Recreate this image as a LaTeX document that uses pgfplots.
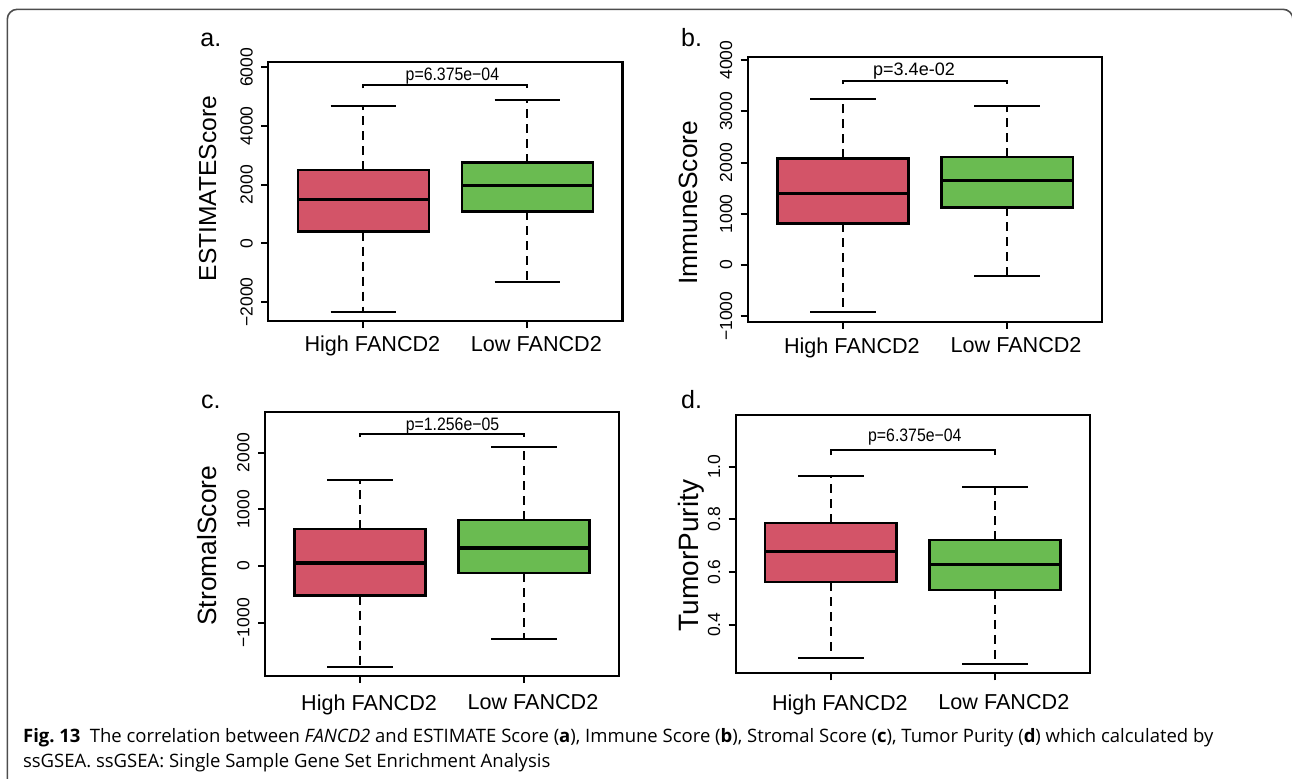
\documentclass[border=0pt]{standalone}
\usepackage{fontspec}
\setmainfont{Liberation Sans}
\newfontfamily\capfont{Open Sans}
\usepackage{graphicx}
\usepackage{pgfplots}
\pgfplotsset{compat=1.18}
\definecolor{rred}{HTML}{D35468}
\definecolor{rgreen}{HTML}{6ABB51}
\definecolor{framegray}{HTML}{4D4D4D}
\pgfplotsset{
  rpanel/.style={
    anchor=north west, scale only axis, clip=false,
    xmin=0.42, xmax=2.58,
    xtick={1,2}, xticklabels={High FANCD2,Low FANCD2},
    tick pos=left, tick align=outside, major tick length=3.5pt,
    every tick/.style={black,line width=1pt},
    axis line style={line width=1.1pt},
    tick label style={inner sep=0pt},
    yticklabel shift=4pt,
    yticklabel style={rotate=90,anchor=south,font=\fontsize{8.75}{10}\selectfont},
    xticklabel style={anchor=north,font=\fontsize{10.8}{12}\selectfont,xshift=4.5pt},
  },
  wd/.style={black,line width=1pt,no marks,dash pattern=on 4.5pt off 3pt},
  wc/.style={black,line width=1pt,no marks},
  bx/.style={draw=black,line width=1.25pt,no marks,fill=#1},
  md/.style={black,line width=1.6pt,no marks},
  brk/.style={black,line width=1pt,no marks},
}
\newcommand{\ylab}[4]{\node[rotate=90,inner sep=0pt,font=\fontsize{#4}{16}\selectfont] at ([xshift=#1,yshift=#2]rel axis cs:0,0.5) {#3};}
\begin{document}
\begin{tikzpicture}
\begin{scope}[x=0.5pt,y=-0.5pt]
\useasboundingbox (0,0) rectangle (1292,778);
\draw[framegray,line width=0.8pt,rounded corners=5pt] (7.3,790) -- (7.3,9.3) -- (1293,9.3) -- (1293,40);
\node[anchor=base west,inner sep=0pt,font=\fontsize{12.5}{14}\selectfont] at (200,46) {a.};
\node[anchor=base west,inner sep=0pt,font=\fontsize{12.5}{14}\selectfont] at (680.7,46) {b.};
\node[anchor=base west,inner sep=0pt,font=\fontsize{12.5}{14}\selectfont] at (200.7,408.3) {c.};
\node[anchor=base west,inner sep=0pt,font=\fontsize{12.5}{14}\selectfont] at (680.7,408.3) {d.};
\node[anchor=base west,inner sep=0pt,font=\capfont\fontsize{9.25}{11}\selectfont] at (22.7,742) {\textbf{Fig.~13}\hspace{0.5em}The correlation between \textit{FANCD2} and ESTIMATE Score (\textbf{a}), Immune Score (\textbf{b}), Stromal Score (\textbf{c}), Tumor Purity (\textbf{d}) which calculated by};
\node[anchor=base west,inner sep=0pt,font=\capfont\fontsize{9.25}{11}\selectfont] at (22.7,767) {ssGSEA. ssGSEA: Single Sample Gene Set Enrichment Analysis};
\end{scope}

% ---------- a ----------
\begin{axis}[rpanel, at={(134.15pt,-30.85pt)}, width=177.1pt, height=129.65pt,
  xticklabel shift=3.85pt,
  ymin=-2647, ymax=6191, ytick={-2000,0,2000,4000,6000},
  yticklabels={−2000,0,2000,4000,6000}]
% High: lw -2327, q1 399, med 1489, q3 2497, uw 4678
\addplot[wd] coordinates {(1,2497) (1,4678)};
\addplot[wd] coordinates {(1,399) (1,-2327)};
\addplot[wc] coordinates {(0.8,4678) (1.2,4678)};
\addplot[wc] coordinates {(0.8,-2327) (1.2,-2327)};
\addplot[bx=rred] coordinates {(0.6,399) (1.4,399) (1.4,2497) (0.6,2497)} --cycle;
\addplot[md] coordinates {(0.6,1489) (1.4,1489)};
% Low: lw -1319, q1 1090, med 1966, q3 2750, uw 4896
\addplot[wd] coordinates {(2,2750) (2,4896)};
\addplot[wd] coordinates {(2,1090) (2,-1319)};
\addplot[wc] coordinates {(1.8,4896) (2.2,4896)};
\addplot[wc] coordinates {(1.8,-1319) (2.2,-1319)};
\addplot[bx=rgreen] coordinates {(1.6,1090) (2.4,1090) (2.4,2750) (1.6,2750)} --cycle;
\addplot[md] coordinates {(1.6,1966) (2.4,1966)};
\addplot[brk] coordinates {(1,5280) (1,5383) (2,5383) (2,5280)};
\node[anchor=base,inner sep=0pt,xshift=3.5pt,yshift=2.5pt,font=\fontsize{9}{10}\selectfont] at (axis cs:1.5,5383) {\scalebox{0.88}[1]{p=6.375e−04}};
\ylab{-30.3pt}{1.4pt}{ESTIMATEScore}{12.3}
\end{axis}

% ---------- b ----------
\begin{axis}[rpanel, at={(373.85pt,-28.35pt)}, width=177.3pt, height=132.5pt,
  xticklabel shift=4.15pt,
  ymin=-1107, ymax=4068, ytick={-1000,0,1000,2000,3000,4000},
  yticklabels={−1000,0,1000,2000,3000,4000}]
% High: lw -918, q1 814, med 1400, q3 2084, uw 3236
\addplot[wd] coordinates {(1,2084) (1,3236)};
\addplot[wd] coordinates {(1,814) (1,-918)};
\addplot[wc] coordinates {(0.8,3236) (1.2,3236)};
\addplot[wc] coordinates {(0.8,-918) (1.2,-918)};
\addplot[bx=rred] coordinates {(0.6,814) (1.4,814) (1.4,2084) (0.6,2084)} --cycle;
\addplot[md] coordinates {(0.6,1400) (1.4,1400)};
% Low: lw -215, q1 1126, med 1654, q3 2109, uw 3105
\addplot[wd] coordinates {(2,2109) (2,3105)};
\addplot[wd] coordinates {(2,1126) (2,-215)};
\addplot[wc] coordinates {(1.8,3105) (2.2,3105)};
\addplot[wc] coordinates {(1.8,-215) (2.2,-215)};
\addplot[bx=rgreen] coordinates {(1.6,1126) (2.4,1126) (2.4,2109) (1.6,2109)} --cycle;
\addplot[md] coordinates {(1.6,1654) (2.4,1654)};
\addplot[brk] coordinates {(1,3530) (1,3588) (2,3588) (2,3530)};
\node[anchor=base,inner sep=0pt,xshift=-5.5pt,yshift=2.65pt,font=\fontsize{9}{10}\selectfont] at (axis cs:1.5,3588) {p=3.4e-02};
\ylab{-29.85pt}{-6.8pt}{ImmuneScore}{13.2}
\end{axis}

% ---------- c ----------
\begin{axis}[rpanel, at={(132.5pt,-206.15pt)}, width=177pt, height=131.85pt,
  xticklabel shift=5.5pt,
  ymin=-1941, ymax=2712, ytick={-1000,0,1000,2000},
  yticklabels={−1000,0,1000,2000}]
% High: lw -1776, q1 -524, med 53, q3 653, uw 1518
\addplot[wd] coordinates {(1,653) (1,1518)};
\addplot[wd] coordinates {(1,-524) (1,-1776)};
\addplot[wc] coordinates {(0.8,1518) (1.2,1518)};
\addplot[wc] coordinates {(0.8,-1776) (1.2,-1776)};
\addplot[bx=rred] coordinates {(0.6,-524) (1.4,-524) (1.4,653) (0.6,653)} --cycle;
\addplot[md] coordinates {(0.6,53) (1.4,53)};
% Low: lw -1283, q1 -124, med 318, q3 812, uw 2106
\addplot[wd] coordinates {(2,812) (2,2106)};
\addplot[wd] coordinates {(2,-124) (2,-1283)};
\addplot[wc] coordinates {(1.8,2106) (2.2,2106)};
\addplot[wc] coordinates {(1.8,-1283) (2.2,-1283)};
\addplot[bx=rgreen] coordinates {(1.6,-124) (2.4,-124) (2.4,812) (1.6,812)} --cycle;
\addplot[md] coordinates {(1.6,318) (2.4,318)};
\addplot[brk] coordinates {(1,2270) (1,2329) (2,2329) (2,2270)};
\node[anchor=base,inner sep=0pt,xshift=5.25pt,yshift=1.65pt,font=\fontsize{9}{10}\selectfont] at (axis cs:1.5,2329) {\scalebox{0.88}[1]{p=1.256e−05}};
\ylab{-28.95pt}{-0.8pt}{StromalScore}{13.2}
\end{axis}

% ---------- d ----------
\begin{axis}[rpanel, at={(367.85pt,-207.35pt)}, width=177.15pt, height=129.3pt,
  xticklabel shift=6.85pt,
  ymin=0.215, ymax=1.197, ytick={0.4,0.6,0.8,1.0},
  yticklabels={0.4,0.6,0.8,1.0}]
% High: lw 0.272, q1 0.561, med 0.677, q3 0.786, uw 0.966
\addplot[wd] coordinates {(1,0.786) (1,0.966)};
\addplot[wd] coordinates {(1,0.561) (1,0.272)};
\addplot[wc] coordinates {(0.8,0.966) (1.2,0.966)};
\addplot[wc] coordinates {(0.8,0.272) (1.2,0.272)};
\addplot[bx=rred] coordinates {(0.6,0.561) (1.4,0.561) (1.4,0.786) (0.6,0.786)} --cycle;
\addplot[md] coordinates {(0.6,0.677) (1.4,0.677)};
% Low: lw 0.250, q1 0.532, med 0.629, q3 0.721, uw 0.924
\addplot[wd] coordinates {(2,0.721) (2,0.924)};
\addplot[wd] coordinates {(2,0.532) (2,0.250)};
\addplot[wc] coordinates {(1.8,0.924) (2.2,0.924)};
\addplot[wc] coordinates {(1.8,0.250) (2.2,0.250)};
\addplot[bx=rgreen] coordinates {(1.6,0.532) (2.4,0.532) (2.4,0.721) (1.6,0.721)} --cycle;
\addplot[md] coordinates {(1.6,0.629) (2.4,0.629)};
\addplot[brk] coordinates {(1,1.044) (1,1.063) (2,1.063) (2,1.044)};
\node[anchor=base,inner sep=0pt,xshift=1pt,yshift=4.15pt,font=\fontsize{9}{10}\selectfont] at (axis cs:1.5,1.063) {\scalebox{0.88}[1]{p=6.375e−04}};
\ylab{-22.35pt}{-5.75pt}{TumorPurity}{14}
\end{axis}
\end{tikzpicture}
\end{document}
